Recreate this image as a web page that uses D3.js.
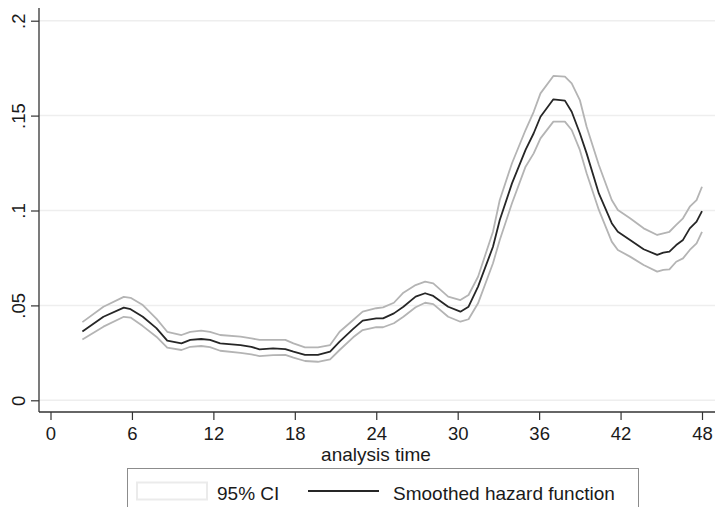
<!DOCTYPE html>
<html>
<head>
<meta charset="utf-8">
<script src="https://cdn.jsdelivr.net/npm/d3@7"></script>
<style>
  html, body { margin: 0; padding: 0; background: #fff; }
  svg text { font-family: "Liberation Sans", Arial, Helvetica, sans-serif; fill: #1a1a1a; }
</style>
</head>
<body>
<svg id="chart" width="715" height="507"></svg>
<script>
// ---- data ----
const time   = [2.35, 3.9, 5.4, 5.9, 6.8, 7.8, 8.6, 9.65, 10.3, 11.1, 11.75, 12.5, 14.0, 14.8, 15.4, 16.4, 17.3, 17.9, 18.75, 19.7, 20.6, 21.3, 22.3, 23.0, 24.0, 24.5, 25.3, 26.0, 26.9, 27.6, 28.2, 29.3, 30.2, 30.8, 31.5, 32.6, 33.1, 34.0, 35.0, 35.6, 36.1, 37.05, 37.9, 38.4, 39.0, 39.5, 40.4, 41.35, 41.8, 42.7, 43.7, 44.7, 45.15, 45.6, 46.1, 46.6, 47.1, 47.6, 48.0];
const hazard = [.0363, .0440, .0488, .0480, .0440, .0380, .0314, .0300, .0318, .0323, .0318, .0300, .0291, .0282, .0268, .0274, .0270, .0256, .0239, .0239, .0256, .0309, .0376, .0420, .0432, .0432, .0458, .0493, .0546, .0564, .0550, .0493, .0467, .0493, .0599, .0809, .0950, .1143, .1319, .1407, .1494, .1586, .1579, .1520, .1407, .1301, .1090, .0933, .0888, .0845, .0796, .0766, .0778, .0783, .0818, .0845, .0906, .0941, .0997];
const lower  = [.0320, .0388, .0440, .0436, .0391, .0335, .0277, .0265, .0282, .0286, .0280, .0261, .0250, .0242, .0233, .0238, .0239, .0225, .0207, .0203, .0216, .0265, .0332, .0370, .0385, .0385, .0406, .0440, .0490, .0514, .0507, .0440, .0414, .0427, .0511, .0722, .0845, .1038, .1231, .1301, .1380, .1468, .1468, .1424, .1319, .1196, .1003, .0836, .0792, .0757, .0713, .0678, .0687, .0690, .0730, .0748, .0792, .0827, .0888];
const upper  = [.0412, .0493, .0545, .0540, .0502, .0430, .0361, .0344, .0361, .0367, .0361, .0344, .0335, .0326, .0318, .0318, .0318, .0300, .0279, .0279, .0291, .0361, .0423, .0467, .0485, .0490, .0514, .0567, .0607, .0625, .0616, .0546, .0528, .0555, .0651, .0888, .1055, .1249, .1424, .1520, .1617, .1709, .1705, .1670, .1582, .1441, .1240, .1055, .1003, .0959, .0906, .0871, .0880, .0888, .0924, .0959, .1020, .1055, .1125];

const xTicks = [0, 6, 12, 18, 24, 30, 36, 42, 48];
const yTicks = [0, 0.05, 0.1, 0.15, 0.2];
const yTickLabels = ["0", ".05", ".1", ".15", ".2"];
const xTitle = "analysis time";
const legendLabels = ["95% CI", "Smoothed hazard function"];

// ---- layout ----
const svg = d3.select("#chart");
const plotLeft = 39, plotRight = 715, plotTop = 8, plotBottom = 412;
const x = d3.scaleLinear().domain([0, 48]).range([50.5, 702]);
const y = d3.scaleLinear().domain([0, 0.2]).range([400.3, 20.7]);
const FS = 19, TFS = 18.5;

// gridlines
svg.append("g").selectAll("line").data(yTicks).join("line")
  .attr("x1", plotLeft).attr("x2", plotRight)
  .attr("y1", d => y(d)).attr("y2", d => y(d))
  .attr("stroke", "#eeeeee").attr("stroke-width", 1.5);

// y axis
const yAxis = svg.append("g").attr("transform", `translate(${plotLeft},0)`)
  .call(d3.axisLeft(y).tickValues(yTicks).tickSize(8).tickSizeOuter(0)
    .tickFormat((d, i) => yTickLabels[i]));
yAxis.select(".domain").remove();
yAxis.selectAll(".tick line").attr("stroke", "#333").attr("stroke-width", 1.2);
yAxis.selectAll(".tick text")
  .attr("transform", "rotate(-90)")
  .attr("x", 0).attr("y", -14).attr("dy", 0)
  .attr("text-anchor", "middle")
  .style("font-size", TFS + "px").style("font-family", "'Liberation Sans', Arial, sans-serif").attr("fill", "#1a1a1a");

// x axis
const xAxis = svg.append("g").attr("transform", `translate(0,${plotBottom})`)
  .call(d3.axisBottom(x).tickValues(xTicks).tickSize(8).tickSizeOuter(0));
xAxis.select(".domain").remove();
xAxis.selectAll(".tick line").attr("stroke", "#333").attr("stroke-width", 1.2);
xAxis.selectAll(".tick text")
  .attr("y", 28).attr("dy", 0)
  .style("font-size", TFS + "px").style("font-family", "'Liberation Sans', Arial, sans-serif").attr("fill", "#1a1a1a");

// axis lines
svg.append("line").attr("x1", plotLeft).attr("x2", plotLeft).attr("y1", plotTop).attr("y2", plotBottom)
  .attr("stroke", "#333").attr("stroke-width", 1.3);
svg.append("line").attr("x1", plotLeft).attr("x2", plotRight).attr("y1", plotBottom).attr("y2", plotBottom)
  .attr("stroke", "#333").attr("stroke-width", 1.3);

// curves
const mk = arr => d3.line().x((d, i) => x(time[i])).y((d, i) => y(arr[i]));
svg.append("path").datum(upper).attr("d", mk(upper))
  .attr("fill", "none").attr("stroke", "#b4b4b4").attr("stroke-width", 1.8).attr("stroke-linejoin", "round");
svg.append("path").datum(lower).attr("d", mk(lower))
  .attr("fill", "none").attr("stroke", "#b4b4b4").attr("stroke-width", 1.8).attr("stroke-linejoin", "round");
svg.append("path").datum(hazard).attr("d", mk(hazard))
  .attr("fill", "none").attr("stroke", "#262626").attr("stroke-width", 1.8).attr("stroke-linejoin", "round");

// x title
svg.append("text").attr("x", 376).attr("y", 460.5).attr("text-anchor", "middle")
  .style("font-size", FS + "px").text(xTitle);

// legend
const lg = svg.append("g");
lg.append("rect").attr("x", 127.5).attr("y", 468.5).attr("width", 511).attr("height", 45)
  .attr("fill", "#fff").attr("stroke", "#8c8c8c").attr("stroke-width", 1);
lg.append("rect").attr("x", 137).attr("y", 482.5).attr("width", 70).attr("height", 17)
  .attr("fill", "#fff").attr("stroke", "#ebebeb").attr("stroke-width", 2);
lg.append("text").attr("x", 217).attr("y", 500).style("font-size", FS + "px").text(legendLabels[0]);
lg.append("line").attr("x1", 308).attr("x2", 379).attr("y1", 491).attr("y2", 491)
  .attr("stroke", "#262626").attr("stroke-width", 1.8);
lg.append("text").attr("x", 393).attr("y", 500).style("font-size", FS + "px").text(legendLabels[1]);
</script>
</body>
</html>
